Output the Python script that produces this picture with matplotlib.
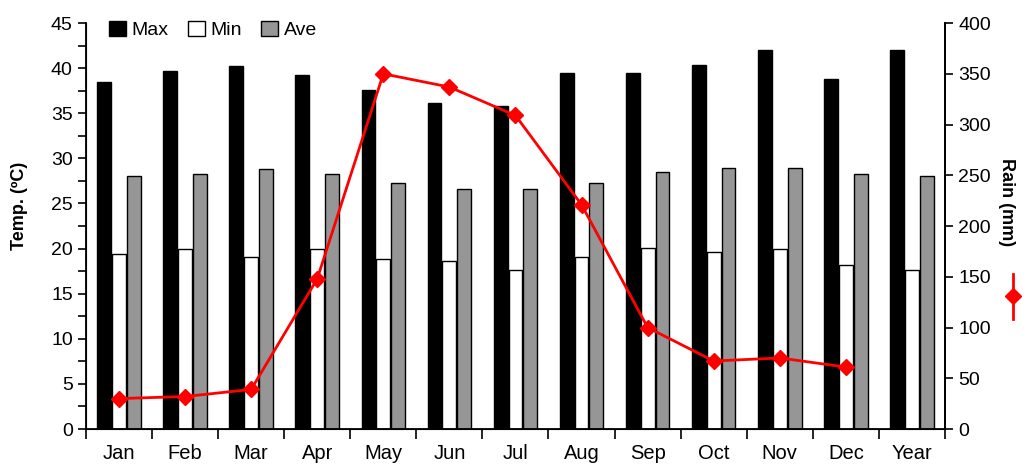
import matplotlib.pyplot as plt
import numpy as np
from matplotlib.lines import Line2D
from matplotlib.ticker import MultipleLocator

plt.rcParams['font.family'] = ['Liberation Sans', 'DejaVu Sans']

months = ["Jan", "Feb", "Mar", "Apr", "May", "Jun", "Jul", "Aug", "Sep", "Oct", "Nov", "Dec", "Year"]
t_max = [38.5, 39.7, 40.2, 39.2, 37.6, 36.1, 35.8, 39.5, 39.5, 40.3, 42.0, 38.8, 42.0]
t_min = [19.4, 20.0, 19.1, 20.0, 18.9, 18.6, 17.6, 19.1, 20.1, 19.6, 20.0, 18.2, 17.6]
t_ave = [28.1, 28.3, 28.8, 28.3, 27.3, 26.6, 26.6, 27.3, 28.5, 28.9, 28.9, 28.3, 28.1]
rain = [30, 32, 39, 148, 350, 337, 309, 221, 100, 67, 70, 61]  # no value for Year

x = np.arange(len(months))
w = 0.21

fig = plt.figure(figsize=(10.26, 4.72), dpi=100)
ax = fig.add_axes([0.0838, 0.0911, 0.8372, 0.860])

ax.bar(x - 0.225, t_max, w, color="black", edgecolor="black", linewidth=1, label="Max", zorder=2)
ax.bar(x, t_min, w, color="white", edgecolor="black", linewidth=1, label="Min", zorder=2)
ax.bar(x + 0.225, t_ave, w, color="#969696", edgecolor="black", linewidth=1, label="Ave", zorder=2)

ax.set_xlim(-0.5, len(months) - 0.5)
ax.set_ylim(0, 45)
ax.yaxis.set_major_locator(MultipleLocator(5))
ax.yaxis.set_minor_locator(MultipleLocator(2.5))
ax.set_xticks(x)
ax.set_xticklabels(months, fontsize=14.5)
ax.set_xticks(np.arange(-0.5, len(months)), minor=True)
ax.tick_params(axis="x", which="major", length=0, pad=11)
ax.tick_params(axis="x", which="minor", length=7, width=1.2, direction="out")
ax.tick_params(axis="y", which="major", labelsize=14, length=6, width=1.2)
ax.tick_params(axis="y", which="minor", length=6, width=1.2)
ax.set_ylabel("Temp. (ºC)", fontsize=13, fontweight="bold")
ax.yaxis.set_label_coords(-0.068, 0.55)
ax.spines["top"].set_visible(False)
for s in ["left", "bottom", "right"]:
    ax.spines[s].set_linewidth(1.3)

ax2 = ax.twinx()
ax2.plot(x[:len(rain)], rain, color="red", linewidth=2, marker="D", markersize=8, zorder=5)
ax2.set_ylim(0, 400)
ax2.yaxis.set_major_locator(MultipleLocator(50))
ax2.tick_params(axis="y", labelsize=14, length=6, width=1.2)
ax2.spines["top"].set_visible(False)
ax2.spines["right"].set_linewidth(1.3)
ax2.set_ylabel("Rain (mm)", fontsize=13, fontweight="bold", rotation=270)
ax2.yaxis.set_label_coords(1.082, 0.56)

# red legend key under the rain label
fig.add_artist(Line2D([0.987, 0.987], [0.325, 0.42], color="red", linewidth=2,
                      transform=fig.transFigure))
fig.add_artist(Line2D([0.987], [0.372], color="red", marker="D", markersize=8,
                      transform=fig.transFigure))

ax.legend(loc="upper left", ncol=3, frameon=False, fontsize=14,
          handlelength=0.85, handleheight=0.85, handletextpad=0.3, columnspacing=1.0,
          bbox_to_anchor=(0.018, 1.025), borderaxespad=0)

fig.savefig("out.png", dpi=100)
